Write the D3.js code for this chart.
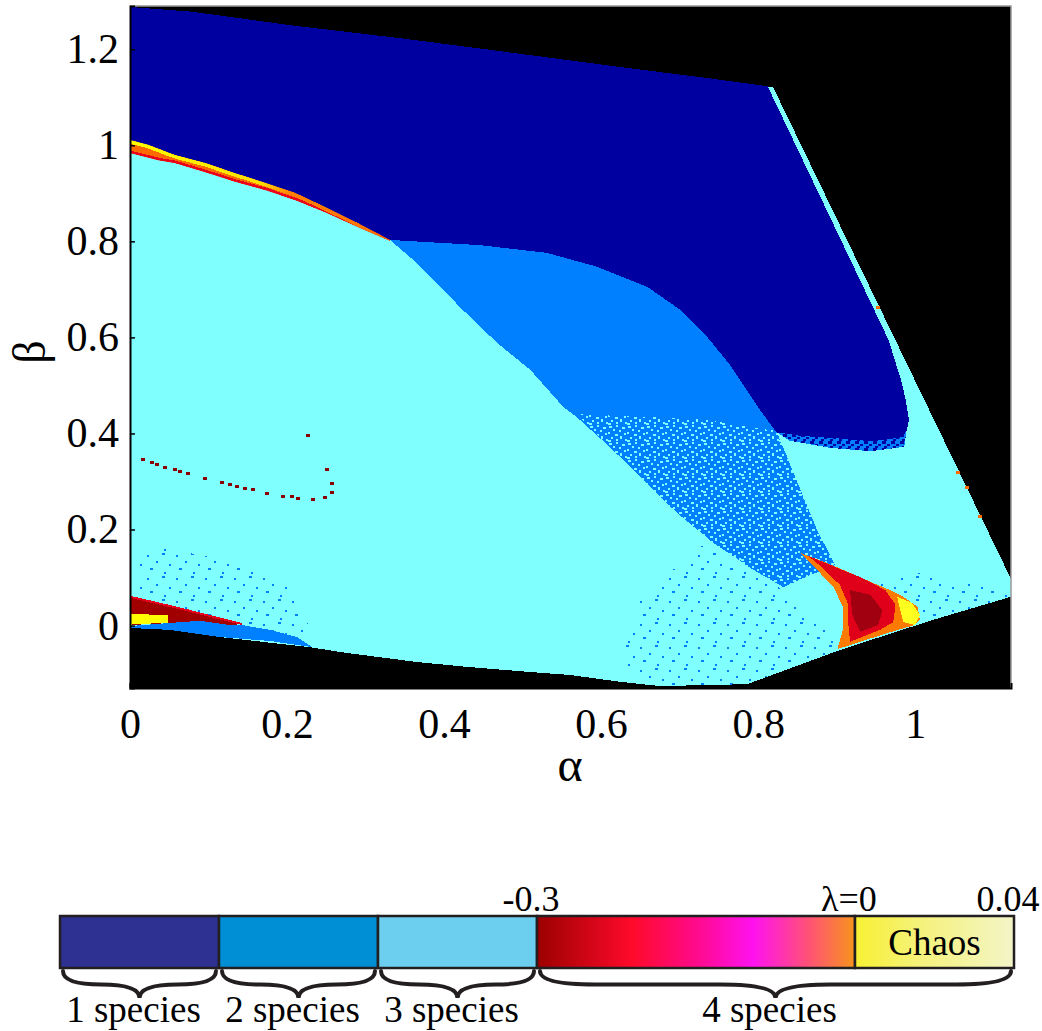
<!DOCTYPE html>
<meta charset="utf-8">
<html>
<head>
<style>
  body { margin: 0; background: #fff; }
  text { font-family: "Liberation Serif", "Times New Roman", serif; fill: #000; }
</style>
</head>
<body>
<div id="chart"></div>

<script src="https://d3js.org/d3.v7.min.js"></script>

<script>

  // ---- data: region outlines, as [alpha, beta] ----

  // outer edge of the computed area (black outside)
  var domainOutline = [[0,1.288],[0.080,1.278],[0.204,1.250],[0.344,1.223],[0.462,1.198],[0.624,1.163],
    [0.735,1.140],[0.819,1.121],[1.122,0.097],[1.122,0.060],[1.023,0.012],[0.904,-0.051],[0.786,-0.122],
    [0.675,-0.126],[0.624,-0.117],[0.561,-0.103],[0.497,-0.095],[0.429,-0.086],[0.366,-0.076],
    [0.276,-0.057],[0.229,-0.045],[0.115,-0.024],[0.051,-0.009],[0,-0.005]];

  // 1 species
  var oneSpecies = [[0,1.288],[0.080,1.278],[0.204,1.250],[0.344,1.223],[0.462,1.198],[0.624,1.163],
    [0.735,1.140],[0.812,1.123],[0.966,0.595],[0.974,0.553],[0.982,0.511],[0.988,0.470],[0.992,0.428],
    [0.989,0.405],[0.980,0.391],[0.943,0.384],[0.892,0.391],[0.854,0.395],[0.823,0.403],
    [0.805,0.443],[0.787,0.486],[0.764,0.543],[0.735,0.601],[0.701,0.657],[0.659,0.705],[0.595,0.747],
    [0.531,0.776],[0.446,0.792],[0.331,0.803],[0.290,0.838],[0.248,0.872],[0.210,0.901],[0.172,0.922],
    [0.134,0.942],[0.096,0.963],[0.057,0.980],[0.023,1.001],[0,1.011]];

  // dark-blue fringe under the 1 species area
  var oneSpeciesFringe = [[0.823,0.403],[0.854,0.395],[0.892,0.391],[0.943,0.384],[0.980,0.391],
    [0.989,0.405],[0.986,0.372],[0.943,0.363],[0.892,0.370],[0.840,0.385]];

  // 2 species
  var twoSpecies = [[0.331,0.803],[0.446,0.792],[0.531,0.776],[0.595,0.747],[0.659,0.705],[0.701,0.657],
    [0.735,0.601],[0.764,0.543],[0.787,0.486],[0.805,0.443],[0.823,0.403],[0.837,0.351],[0.854,0.282],
    [0.875,0.199],[0.898,0.126],[0.866,0.105],[0.832,0.080],[0.794,0.116],[0.743,0.172],[0.697,0.234],
    [0.654,0.303],[0.611,0.372],[0.569,0.434],[0.552,0.455],[0.510,0.532],[0.468,0.588],[0.424,0.657],
    [0.386,0.720],[0.361,0.761]];

  // speckled (mixed 2/3 species) part of the wedge
  var twoSpeciesMixed = [[0.569,0.440],[0.726,0.430],[0.823,0.405],[0.837,0.351],[0.854,0.282],
    [0.875,0.199],[0.898,0.126],[0.866,0.105],[0.832,0.080],[0.794,0.116],[0.743,0.172],[0.697,0.234],
    [0.654,0.303],[0.611,0.372]];

  // sparse 2-species points inside the 3 species area
  var sparseLeft = [[0.013,0.168],[0.127,0.137],[0.204,0.085],[0.236,-0.030],[0.213,-0.024],
    [0.140,0.001],[0.073,0.032],[0.013,0.057]];
  var sparseLow = [[0.726,0.168],[0.832,0.074],[0.898,-0.030],[0.904,-0.051],[0.786,-0.122],
    [0.675,-0.126],[0.624,-0.072],[0.650,0.053]];
  var sparseRight = [[0.920,0.074],[1.000,0.110],[1.110,0.080],[1.122,0.060],[1.023,0.012],[0.985,0.020]];

  // 4 species band along the 1/3 species border
  var bandTop = [[0,1.011],[0.023,1.001],[0.057,0.980],[0.096,0.963],[0.134,0.942],[0.172,0.922],
    [0.210,0.901],[0.248,0.872],[0.290,0.838],[0.331,0.803]];
  var bandBottom = [[0,0.984],[0.036,0.969],[0.057,0.963],[0.096,0.944],[0.134,0.924],[0.172,0.907],
    [0.210,0.886],[0.248,0.861],[0.290,0.830],[0.331,0.801]];

  // lower left corner
  var lowBlueStrip = [[0,-0.001],[0.048,0.005],[0.089,0.010],[0.143,0.001],[0.178,-0.009],[0.213,-0.024],
    [0.232,-0.045],[0.178,-0.032],[0.115,-0.024],[0.051,-0.009],[0,-0.005]];
  var lowRedBand = [[0,0.060],[0.029,0.049],[0.073,0.032],[0.106,0.018],[0.143,0.003],[0.127,0.001],
    [0.089,0.010],[0.048,0.005],[0,0.001]];
  var lowChaos = [[0,0.024],[0.048,0.022],[0.048,0.006],[0,0.002]];

  // 4 species / chaos patch near alpha = 0.9
  var blobOuter = [[0.854,0.151],[0.888,0.130],[0.917,0.110],[0.946,0.089],[0.968,0.074],[0.985,0.060],
    [1.003,0.039],[1.006,0.012],[0.997,0.000],[0.972,-0.012],[0.939,-0.029],[0.901,-0.049],
    [0.908,-0.009],[0.908,0.039],[0.896,0.080],[0.875,0.116]];
  var blobRed = [[0.864,0.145],[0.892,0.126],[0.930,0.101],[0.962,0.074],[0.975,0.043],[0.972,0.007],
    [0.955,-0.009],[0.917,-0.034],[0.915,0.001],[0.915,0.043],[0.904,0.085],[0.882,0.120]];
  var blobCore = [[0.917,0.074],[0.943,0.064],[0.958,0.032],[0.953,0.001],[0.930,-0.013],[0.920,0.022]];
  var blobChaos = [[0.977,0.060],[0.996,0.047],[1.006,0.022],[1.000,0.001],[0.985,0.007],[0.981,0.032]];

  // isolated 4 species points
  var darkRedDots = [[0.017,0.347],[0.028,0.341],[0.034,0.336],[0.045,0.330],[0.057,0.326],[0.064,0.322],
    [0.074,0.318],[0.096,0.307],[0.117,0.299],[0.127,0.295],[0.136,0.291],[0.146,0.286],[0.157,0.284],
    [0.175,0.276],[0.195,0.270],[0.206,0.270],[0.214,0.266],[0.233,0.264],[0.248,0.268],[0.257,0.278],
    [0.257,0.297],[0.251,0.326],[0.227,0.397]];
  var orangeDots = [[1.054,0.320],[1.066,0.289],[1.083,0.228],[0.953,0.663]];

  // axes
  var xTicks = [0, 0.2, 0.4, 0.6, 0.8, 1];
  var yTicks = [0, 0.2, 0.4, 0.6, 0.8, 1, 1.2];

  // legend bar
  var cbBreaks = [0, 1, 2, 3, 5, 6];
  var cbTickPos = [3, 5, 6];
  var cbTickText = ["-0.3", "\u03bb=0", "0.04"];
  var speciesNames = ["1 species", "2 species", "3 species", "4 species"];
  var speciesSpan = [[0, 1], [1, 2], [2, 3], [3, 6]];

  // ---- drawing ----

  var svg = d3.select("#chart").append("svg")
      .attr("width", 1042)
      .attr("height", 1031);

  var x = d3.scaleLinear().domain([0, 1.122]).range([130, 1011]);
  var y = d3.scaleLinear().domain([-0.13, 1.29]).range([688, 6]);

  var areaPath = d3.line().x(function(d) { return x(d[0]); }).y(function(d) { return y(d[1]); })
      .curve(d3.curveLinearClosed);
  var linePath = d3.line().x(function(d) { return x(d[0]); }).y(function(d) { return y(d[1]); });

  var defs = svg.append("defs");

  defs.append("clipPath").attr("id", "plotClip")
    .append("rect").attr("x", x(0)).attr("y", y(1.29))
      .attr("width", x(1.122) - x(0)).attr("height", y(-0.13) - y(1.29));

  defs.append("clipPath").attr("id", "bandClip")
    .append("path").attr("d", areaPath(bandTop.concat(bandBottom.slice().reverse())));

  // textures for the speckled areas
  function texture(id, w, h, bg, fg, cells) {
    var p = defs.append("pattern").attr("id", id)
        .attr("patternUnits", "userSpaceOnUse").attr("width", w).attr("height", h);
    if (bg) p.append("rect").attr("width", w).attr("height", h).attr("fill", bg);
    cells.forEach(function(r) {
      p.append("rect").attr("x", r[0]).attr("y", r[1]).attr("width", r[2]).attr("height", r[3])
        .attr("fill", fg);
    });
  }

  texture("dense", 19, 17, "#0080ff", "#80ffff",
    [[1,1,3,2],[8,0,2,2],[14,2,3,2],[5,4,2,2],[11,5,2,2],[0,7,2,2],[16,8,2,2],[7,9,3,2],
     [3,12,2,2],[12,11,2,3],[17,14,2,2],[8,14,2,2],[0,15,3,2]]);
  texture("sparse", 29, 23, null, "#0080ff",
    [[2,3,2,2],[17,1,3,2],[11,9,2,2],[24,12,2,2],[5,16,3,2],[19,20,2,2]]);
  texture("fringe", 9, 7, "#0080ff", "#0000a0",
    [[0,0,4,3],[5,3,3,2],[2,5,3,2]]);

  var bandGrad = defs.append("linearGradient").attr("id", "bandGrad")
      .attr("gradientUnits", "userSpaceOnUse")
      .attr("x1", x(0)).attr("x2", x(0.331)).attr("y1", 0).attr("y2", 0);
  bandGrad.append("stop").attr("offset", 0).attr("stop-color", "#ffff00");
  bandGrad.append("stop").attr("offset", 0.5).attr("stop-color", "#ffe000");
  bandGrad.append("stop").attr("offset", 0.62).attr("stop-color", "#ff8000");
  bandGrad.append("stop").attr("offset", 1).attr("stop-color", "#ff7000");

  var plot = svg.append("g").attr("clip-path", "url(#plotClip)")
      .attr("shape-rendering", "crispEdges");

  plot.append("rect").attr("x", x(0)).attr("y", y(1.29))
      .attr("width", x(1.122) - x(0)).attr("height", y(-0.13) - y(1.29)).attr("fill", "#000");

  function region(pts, fill) {
    plot.append("path").attr("d", areaPath(pts)).attr("fill", fill);
  }

  region(domainOutline, "#80ffff");
  region(sparseLeft, "url(#sparse)");
  region(sparseLow, "url(#sparse)");
  region(sparseRight, "url(#sparse)");
  region(twoSpecies, "#0080ff");
  region(twoSpeciesMixed, "url(#dense)");
  region(oneSpecies, "#0000a0");
  region(oneSpeciesFringe, "url(#fringe)");

  // band along the upper border
  region(bandTop.concat(bandBottom.slice().reverse()), "#ff6a00");
  var band = plot.append("g").attr("clip-path", "url(#bandClip)");
  band.append("path").attr("d", linePath(bandBottom)).attr("fill", "none")
      .attr("stroke", "#e8001c").attr("stroke-width", 5);
  band.append("path").attr("d", linePath(bandTop)).attr("fill", "none")
      .attr("stroke", "url(#bandGrad)").attr("stroke-width", 7);

  // lower left corner
  region(lowBlueStrip, "#0080ff");
  region(lowRedBand, "#a00000");
  plot.append("path").attr("d", linePath(lowRedBand.slice(0, 5))).attr("fill", "none")
      .attr("stroke", "#e8001c").attr("stroke-width", 2);
  region(lowChaos, "#ffff00");

  // patch near alpha = 0.9
  region(blobOuter, "#ff7a00");
  region(blobRed, "#e0001a");
  region(blobCore, "#a00010");
  region(blobChaos, "#ffff20");

  plot.selectAll(".drd").data(darkRedDots).enter().append("rect")
      .attr("x", function(d) { return x(d[0]) - 2; })
      .attr("y", function(d) { return y(d[1]) - 1; })
      .attr("width", 4).attr("height", 3).attr("fill", "#8b0000");

  plot.selectAll(".ord").data(orangeDots).enter().append("rect")
      .attr("x", function(d) { return x(d[0]) - 2; })
      .attr("y", function(d) { return y(d[1]) - 1; })
      .attr("width", 4).attr("height", 3).attr("fill", "#ff6a00");

  // frame
  svg.append("path")
      .attr("d", "M" + x(0) + "," + y(1.29) + "H" + x(1.122) + "V" + y(-0.13))
      .attr("fill", "none").attr("stroke", "#999").attr("stroke-width", 1.5);

  var xAxis = svg.append("g")
      .attr("transform", "translate(0," + y(-0.13) + ")")
      .call(d3.axisBottom(x).tickValues(xTicks).tickSize(-5).tickPadding(20)
        .tickFormat(function(d) { return d; }));
  var yAxis = svg.append("g")
      .attr("transform", "translate(" + x(0) + ",0)")
      .call(d3.axisLeft(y).tickValues(yTicks).tickSize(-5).tickPadding(11)
        .tickFormat(function(d) { return d; }));

  [xAxis, yAxis].forEach(function(a) {
    a.select(".domain").attr("stroke", "#000").attr("stroke-width", 2);
    a.selectAll(".tick line").attr("stroke", "#000").attr("stroke-width", 1.5);
    a.selectAll(".tick text")
      .style("font-family", "'Liberation Serif', 'Times New Roman', serif")
      .style("font-size", "42px").attr("fill", "#000");
  });

  svg.append("text")
      .attr("x", 570).attr("y", 781)
      .attr("text-anchor", "middle")
      .style("font-size", "48px")
      .text("\u03b1");

  svg.append("text")
      .attr("transform", "translate(45,352) rotate(-90)")
      .attr("text-anchor", "middle")
      .style("font-size", "46px")
      .text("\u03b2");

  // ---- legend bar ----

  var cb = d3.scaleLinear().domain([0, 6]).range([60, 1014]);
  var cbTop = 916, cbBottom = 968;
  var cbFills = ["#2e3192", "#008fd5", "#6dcff0", "url(#lamGrad)", "url(#chaosGrad)"];

  var lamGrad = defs.append("linearGradient").attr("id", "lamGrad");
  [[0, "#9b0000"], [0.3, "#ff0a2a"], [0.5, "#ff0a8a"], [0.68, "#ff12f0"], [0.85, "#ff5078"], [1, "#f7941d"]]
    .forEach(function(s) { lamGrad.append("stop").attr("offset", s[0]).attr("stop-color", s[1]); });
  var chaosGrad = defs.append("linearGradient").attr("id", "chaosGrad");
  [[0, "#f7f032"], [0.4, "#f5f27a"], [1, "#f3f5c8"]]
    .forEach(function(s) { chaosGrad.append("stop").attr("offset", s[0]).attr("stop-color", s[1]); });

  var legend = svg.append("g");

  legend.selectAll(".seg").data(d3.pairs(cbBreaks)).enter().append("rect")
      .attr("x", function(d) { return cb(d[0]); })
      .attr("y", cbTop)
      .attr("width", function(d) { return cb(d[1]) - cb(d[0]); })
      .attr("height", cbBottom - cbTop)
      .attr("fill", function(d, i) { return cbFills[i]; })
      .attr("stroke", "#231f20").attr("stroke-width", 2.5);

  legend.selectAll(".cbt").data(cbTickPos).enter().append("text")
      .attr("x", function(d) { return cb(d) - 6; })
      .attr("y", cbTop - 5)
      .attr("text-anchor", "middle")
      .style("font-size", "36px")
      .text(function(d, i) { return cbTickText[i]; });

  legend.append("text")
      .attr("x", cb(5.5)).attr("y", 955)
      .attr("text-anchor", "middle")
      .style("font-size", "37px")
      .text("Chaos");

  // curly braces under the bar
  function brace(x1, x2, y0, h) {
    var xm = (x1 + x2) / 2, ym = y0 + h / 2, r = Math.min((xm - x1) / 2, 55);
    return "M" + x1 + "," + y0 + "Q" + x1 + "," + ym + " " + (x1 + r) + "," + ym +
      "L" + (xm - r) + "," + ym + "Q" + xm + "," + ym + " " + xm + "," + (y0 + h) +
      "Q" + xm + "," + ym + " " + (xm + r) + "," + ym +
      "L" + (x2 - r) + "," + ym + "Q" + x2 + "," + ym + " " + x2 + "," + y0;
  }

  legend.selectAll(".brace").data(speciesSpan).enter().append("path")
      .attr("d", function(d) { return brace(cb(d[0]) + 3, cb(d[1]) - 3, 971, 27); })
      .attr("fill", "none").attr("stroke", "#231f20").attr("stroke-width", 4)
      .attr("stroke-linecap", "round");

  legend.selectAll(".sp").data(speciesSpan).enter().append("text")
      .attr("x", function(d) { return (cb(d[0]) + cb(d[1])) / 2 - 6; })
      .attr("y", 1022)
      .attr("text-anchor", "middle")
      .style("font-size", "37px")
      .text(function(d, i) { return speciesNames[i]; });

</script>
</body>
</html>
